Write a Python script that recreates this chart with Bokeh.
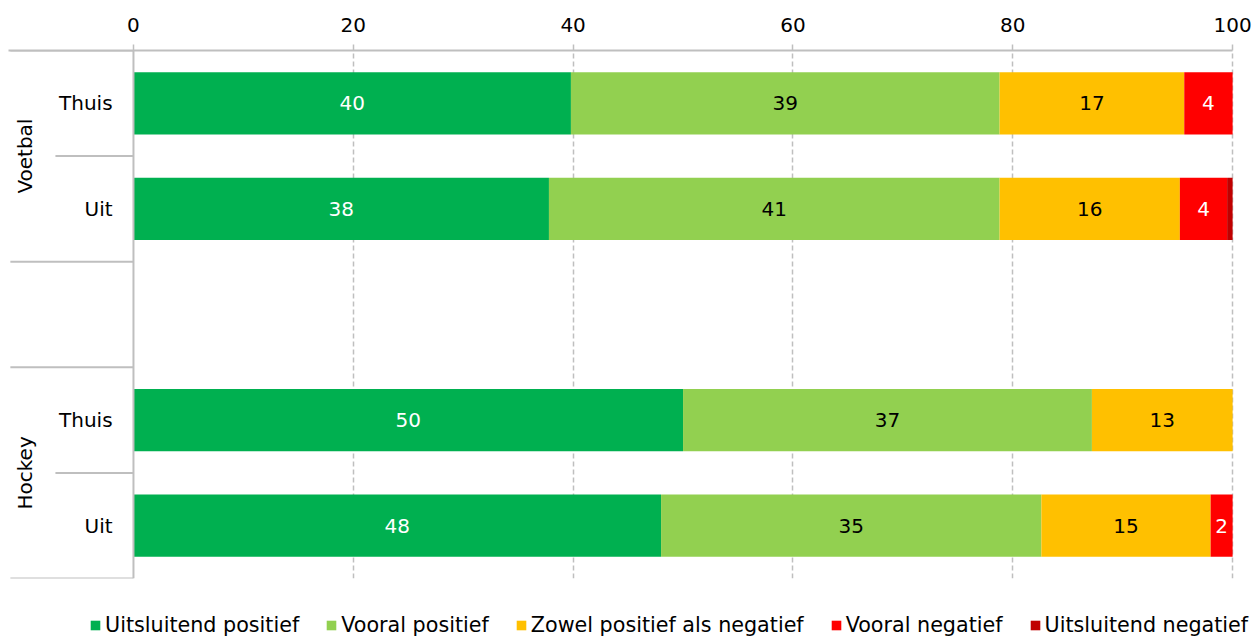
import numpy as np
from bokeh.plotting import figure
from bokeh.layouts import column
from bokeh.models import (ColumnDataSource, FactorRange, Range1d, FixedTicker,
                          Legend, LegendItem, Span)
from bokeh.core.properties import value
from bokeh.embed import file_html
from bokeh.resources import INLINE

# ---- data (top to bottom as in the chart) ----
groups = ["Voetbal", "Voetbal", "Hockey", "Hockey"]
venues = ["Thuis", "Uit", "Thuis", "Uit"]
uitsluitend_positief = [39.8, 37.8, 50.0, 48.0]
vooral_positief = [39.0, 41.0, 37.2, 34.6]
zowel = [16.8, 16.4, 12.8, 15.4]
vooral_negatief = [4.4, 4.3, 0.0, 2.0]
uitsluitend_negatief = [0.0, 0.5, 0.0, 0.0]
series_names = ["Uitsluitend positief", "Vooral positief",
                "Zowel positief als negatief", "Vooral negatief",
                "Uitsluitend negatief"]
x_ticks = [0, 20, 40, 60, 80, 100]

colors = ["#00B050", "#92D050", "#FFC000", "#FF0000", "#C00000"]
label_colors = ["white", "black", "black", "white", "white"]
FONT = "DejaVu Sans"
GRAY = "#BFBFBF"

factors_rows = list(zip(groups, venues))
factors = list(reversed(factors_rows))  # bottom to top

series = [uitsluitend_positief, vooral_positief, zowel, vooral_negatief,
          uitsluitend_negatief]
keys = ["s0", "s1", "s2", "s3", "s4"]
data = {"y": factors_rows}
for k, s in zip(keys, series):
    data[k] = s
source = ColumnDataSource(data)

X0, X1 = -11.37, 101.9
p = figure(width=1253, height=580,
           x_range=Range1d(X0, X1),
           y_range=FactorRange(factors=factors, group_padding=1.0,
                               range_padding=0, factor_padding=0),
           x_axis_location="above", y_axis_location=None,
           output_backend="svg", toolbar_location=None,
           min_border_left=8, min_border_right=0,
           min_border_top=50, min_border_bottom=2)
p.outline_line_color = None
p.background_fill_color = "white"

# grid
p.xgrid.ticker = FixedTicker(ticks=x_ticks[1:])
p.xgrid.grid_line_color = GRAY
p.xgrid.grid_line_dash = "5 3"
p.xgrid.grid_line_width = 1.5
p.ygrid.visible = False

# axis
ax = p.xaxis[0]
ax.ticker = FixedTicker(ticks=x_ticks)
ax.bounds = (X0, 100)
ax.axis_line_color = GRAY
ax.axis_line_width = 2
ax.major_tick_line_color = GRAY
ax.major_tick_line_width = 1.5
ax.major_tick_out = 6
ax.major_tick_in = 0
ax.minor_tick_line_color = None
ax.major_label_text_font = FONT
ax.major_label_text_font_size = "20px"
ax.major_label_text_color = "black"
ax.major_label_standoff = 13

# bars
renderers = p.hbar_stack(keys, y="y", height=0.59, source=source,
                         fill_color=colors, line_color=None)

# value labels
lx, ly, lt, lc = [], [], [], []
arr = np.array(series)
cum = np.cumsum(arr, axis=0) - arr
for i, k in enumerate(keys):
    for j, row in enumerate(factors_rows):
        v = arr[i, j]
        if v >= 1:
            lx.append(cum[i, j] + v / 2)
            ly.append(row)
            lt.append(str(int(round(v))))
            lc.append(label_colors[i])
lab_src = ColumnDataSource(dict(x=lx, y=ly, text=lt, color=lc))
p.text(x="x", y="y", text="text", text_color="color", source=lab_src,
       text_font=value(FONT), text_font_size="20px",
       text_align="center", text_baseline="middle")

# y axis line at 0
p.add_layout(Span(location=0, dimension="height", line_color=GRAY,
                  line_width=2))

# category labels
p.text(x=[-1.9] * len(factors_rows), y=factors_rows, text=venues,
       text_font=value(FONT), text_font_size="20px", text_color="black",
       text_align="right", text_baseline="middle")
group_names = ["Voetbal", "Hockey"]
p.text(x=[-9.85] * 2, y=group_names, text=group_names, angle=np.pi / 2,
       text_font=value(FONT), text_font_size="20px", text_color="black",
       text_align="center", text_baseline="middle")

# separator lines
outer = -11.2
inner = -7.1
seg_y = [("Voetbal", "Thuis", 0.5), ("Voetbal", "Thuis", -0.5),
         ("Voetbal", "Uit", -0.5), ("Hockey", "Thuis", 0.5),
         ("Hockey", "Thuis", -0.5), ("Hockey", "Uit", -0.5)]
seg_x0 = [outer, inner, outer, outer, inner, outer]
p.segment(x0=seg_x0, x1=[0] * 6, y0=seg_y, y1=seg_y,
          line_color=GRAY, line_width=2)

# legend (separate strip below the chart)
pl = figure(width=1253, height=57, x_range=Range1d(0, 1), y_range=Range1d(0, 1),
            x_axis_location=None, y_axis_location=None,
            output_backend="svg", toolbar_location=None,
            min_border=0)
pl.outline_line_color = None
pl.xgrid.visible = False
pl.ygrid.visible = False
# swatch renderers placed outside the visible range; only their legend glyphs show
leg_renderers = [pl.hbar(y=[5], left=[5], right=[6], height=1,
                         fill_color=c, line_color=None)
                 for c in colors]
items = [LegendItem(label=n, renderers=[r])
         for n, r in zip(series_names, leg_renderers)]
legend = Legend(items=items, orientation="horizontal", location=(81, 0),
                glyph_width=12, glyph_height=12, label_standoff=4,
                spacing=26, padding=0, margin=0,
                label_text_font=FONT, label_text_font_size="20.7px",
                label_text_color="black", border_line_color=None,
                background_fill_alpha=0)
pl.add_layout(legend)

layout = column(p, pl, spacing=0)
open("out.html", "w").write(file_html(layout, INLINE))
